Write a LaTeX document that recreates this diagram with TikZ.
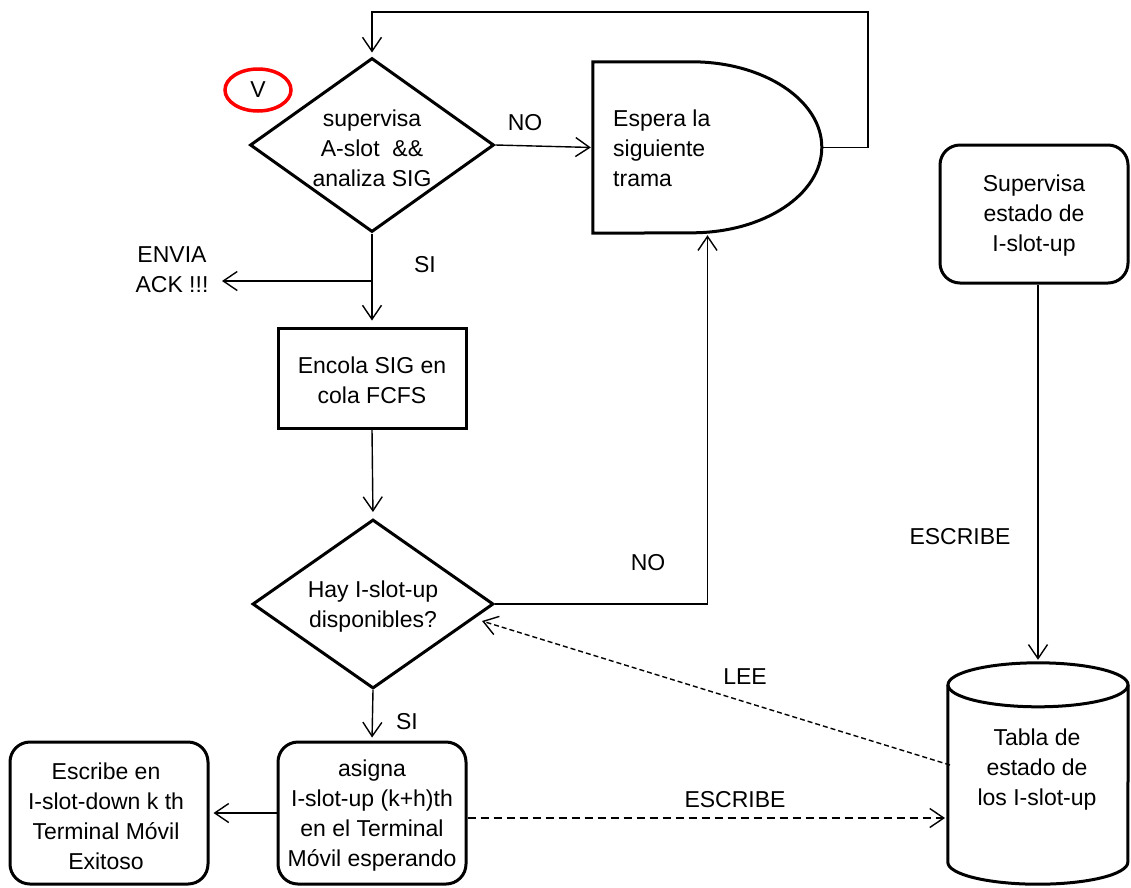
\documentclass[tikz,border=0pt]{standalone}
\usepackage{fontspec}
\setmainfont{Liberation Sans}
\usetikzlibrary{shapes.geometric,arrows.meta}
\begin{document}
\begin{tikzpicture}[x=1pt,y=-1pt,
  font=\fontsize{23}{30}\selectfont,
  shapeline/.style={draw, line width=3pt},
  dia/.style={diamond, shapeline, minimum width=244pt, minimum height=174pt, inner sep=0pt},
  box/.style={draw, line width=3pt, inner sep=0pt},
  rbox/.style={box, rounded corners=20pt},
  ghost/.style={draw=none, inner sep=0pt},
  txt/.style={align=center, inner sep=0pt},
  lbl/.style={inner sep=0pt},
  conn/.style={line width=1.4pt, -{Straight Barb[length=14pt,width=19pt]}},
  plain/.style={line width=1.4pt},
  dashA/.style={dash pattern=on 8pt off 5pt},
  dashB/.style={dash pattern=on 5pt off 3pt}]
\useasboundingbox (0,0) rectangle (1131,887);

% shapes
\node[dia] (d1) at (372,145) {};
\node[txt] at (372,148) {supervisa\\A-slot~~\&\&\\analiza SIG};

\node[ghost, minimum width=229pt, minimum height=171pt] (delay) at (707.5,147.5) {};
\draw[shapeline] (delay.north west) -- ++(99pt,0)
  arc[start angle=90, end angle=-90, x radius=130pt, y radius=85.5pt]
  -- (delay.south west) -- cycle;
\node[txt, align=left, anchor=west] at (613,148) {Espera la\\siguiente\\trama};

\node[box, minimum width=188pt, minimum height=100pt] (enc) at (372,378) {};
\node[txt] at (372,380) {Encola SIG en\\cola FCFS};

\node[dia, minimum width=241pt, minimum height=169pt] (d2) at (373,604) {};
\node[txt] at (373,607) {Hay I-slot-up\\disponibles?};

\node[rbox, minimum width=188pt, minimum height=142pt] (asig) at (372,813) {};
\node[txt] at (372,816) {asigna\\I-slot-up (k+h)th\\en el Terminal\\Móvil esperando};

\node[rbox, minimum width=198pt, minimum height=142pt] (escr) at (109,813) {};
\node[txt] at (106,816) {Escribe en\\I-slot-down k th\\Terminal Móvil\\Exitoso};

\node[rbox, minimum width=188pt, minimum height=138pt] (sup) at (1034,214) {};
\node[txt] at (1034,216) {Supervisa\\estado de\\I-slot-up};

\node[ghost, minimum width=180pt, minimum height=221pt] (cyl) at (1038,773.5) {};
\draw[shapeline] ([yshift=-22pt]cyl.north west) -- ([yshift=22pt]cyl.south west)
  arc[start angle=180, end angle=360, x radius=90pt, y radius=22pt]
  -- ([yshift=-22pt]cyl.north east);
\draw[shapeline] ([yshift=-22pt]cyl.north) ellipse [x radius=90pt, y radius=22pt];
\node[txt] at (1037,770) {Tabla de\\estado de\\los I-slot-up};

\node[draw=red, ellipse, line width=3.5pt, minimum width=66pt, minimum height=42pt, inner sep=0pt] (v) at (258,90) {V};

% connectors
\coordinate (lp1) at (868,12);
\coordinate (lp2) at (372,12);
\draw[conn, shorten >=4pt] (delay.east) -| (lp1) -- (lp2) -- (d1.north);
\draw[conn, shorten >=2pt] (d1.east) -- (delay.west);

\coordinate (br) at (372,281);
\coordinate (ack) at (222,281);
\draw[conn, shorten >=6pt] (d1.south) -- (enc.north);
\draw[conn] (br) -- (ack);

\draw[conn, shorten >=6pt] (enc.south) -- (d2.north);
\draw[conn, shorten >=2pt] (d2.east) -| (delay.south);

\coordinate (leeS) at (950,765);
\coordinate (leeE) at (482,621);
\draw[conn, dashB] (leeS) -- (leeE);

\draw[conn, shorten >=3pt] (d2.south) -- (asig.north);
\draw[conn, shorten >=4pt] (asig.west) -- (escr.east);

\coordinate (escE) at (945,818);
\draw[conn, dashA] (asig.east |- escE) -- (escE);

\draw[conn, shorten >=3pt] (sup.south -| cyl.north) -- (cyl.north);

% labels
\node[lbl] at (525,123) {NO};
\node[lbl] at (425,265) {SI};
\node[txt] at (172,270) {ENVIA\\ACK !!!};
\node[lbl] at (648,563) {NO};
\node[lbl] at (407,722) {SI};
\node[lbl] at (745,677) {LEE};
\node[lbl] at (735,800) {ESCRIBE};
\node[lbl] at (960,537) {ESCRIBE};
\end{tikzpicture}
\end{document}
